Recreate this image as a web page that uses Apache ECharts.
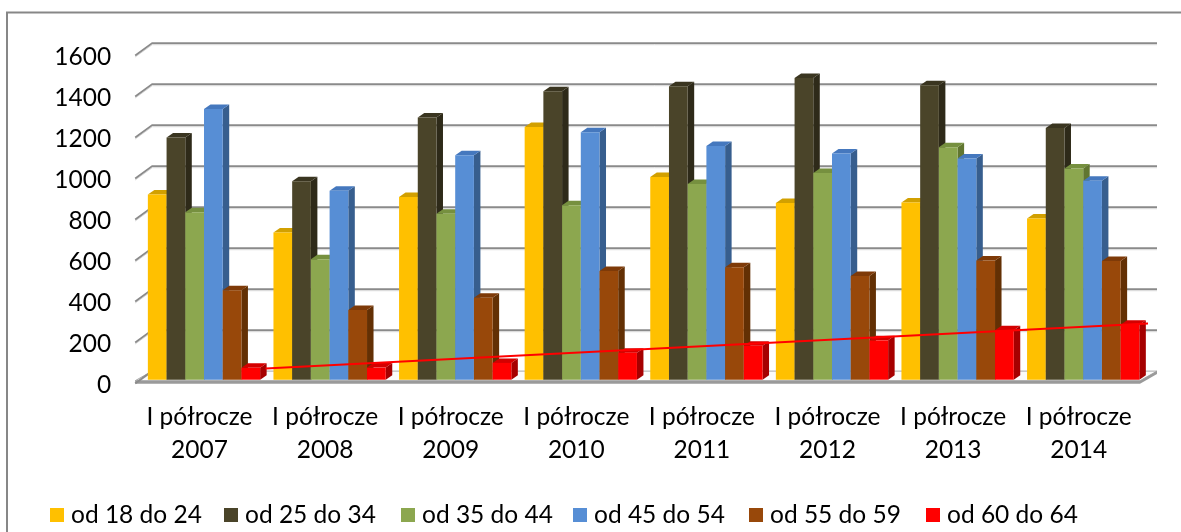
<!DOCTYPE html>
<html><head><meta charset="utf-8">
<script src="https://cdn.jsdelivr.net/npm/echarts@6/dist/echarts.min.js"></script>
<style>html,body{margin:0;padding:0;background:#fff}#c{width:1181px;height:532px}</style>
</head><body><div id="c"></div><script>
// ---- data ----
const years = ['2007','2008','2009','2010','2011','2012','2013','2014'];
const periodLabel = 'I półrocze';
const seriesNames = ['od 18 do 24','od 25 do 34','od 35 do 44','od 45 do 54','od 55 do 59','od 60 do 64'];
const age18_24 = [903, 718, 891, 1233, 989, 862, 865, 786];
const age25_34 = [1181, 968, 1279, 1407, 1431, 1472, 1436, 1228];
const age35_44 = [817, 587, 810, 851, 955, 1008, 1134, 1030];
const age45_54 = [1321, 922, 1095, 1207, 1140, 1103, 1079, 971];
const age55_59 = [436, 340, 400, 530, 548, 506, 582, 579];
const age60_64 = [58, 59, 82, 132, 166, 192, 241, 268];
const yTicks = [0, 200, 400, 600, 800, 1000, 1200, 1400, 1600];
const yTickLabels = ['0', '200', '400', '600', '800', '1000', '1200', '1400', '1600'];
// linear trend of "od 60 do 64" (position in categories, value)
const trendX = [0.99, 8.09];
const trendY = [55, 276];

// ---- style ----
const FONT = 'Lato';
const FS = 24.5;
const frontColors = ['#FFC000','#4A4429','#8CA74F','#578ED5','#98480A','#FF0000'];
const topColors   = ['#D2A000','#3A3520','#76903F','#4578BE','#7E3A08','#D40000'];
const sideColors  = ['#B38600','#2E2A19','#617630','#375E8E','#633004','#A60000'];
const DX = 6.5, DY = -4.5;        // depth offset of bar faces
const BAR_FRAC = 0.149;           // bar width / category width
const BACK_DX = 11, BACK_DY = -8.6, FRONT_DX = -6, FRONT_DY = 3.7;

const allSeries = [age18_24, age25_34, age35_44, age45_54, age55_59, age60_64];

function barRender(si) {
  return function (params, api) {
    const ci = api.value(0), v = api.value(1);
    const top = api.coord([ci, v]);
    const base = api.coord([ci, 0]);
    const cw = api.size([1, 0])[0];
    const bw = cw * BAR_FRAC;
    const x0 = top[0] - bw * 3 + si * bw;
    const x1 = x0 + bw;
    const yt = top[1], yb = base[1];
    return {
      type: 'group',
      children: [
        { type: 'polygon', shape: { points: [[x1, yb], [x1 + DX, yb + DY], [x1 + DX, yt + DY], [x1, yt]] }, style: { fill: sideColors[si] } },
        { type: 'polygon', shape: { points: [[x0, yt], [x1, yt], [x1 + DX, yt + DY], [x0 + DX, yt + DY]] }, style: { fill: topColors[si] } },
        { type: 'rect', shape: { x: x0, y: yt, width: bw, height: yb - yt }, style: { fill: frontColors[si] } }
      ]
    };
  };
}

function gridRender(params, api) {
  const cs = params.coordSys;
  const gl = cs.x, gr = cs.x + cs.width;
  const v = api.value(1);
  const y = api.coord([0, v])[1];
  const children = [];
  if (v === 0) {
    const b = y;
    const FL = [gl + FRONT_DX, b + 1], FR = [gr + FRONT_DX, b + 1];
    const BR = [gr + BACK_DX, b + BACK_DY], BL = [gl + BACK_DX, b + BACK_DY];
    children.push({ type: 'polygon', shape: { points: [FL, FR, BR, BL] }, style: { fill: '#fbfbfb', stroke: '#a8a8a8', lineWidth: 1 } });
    children.push({ type: 'polygon', shape: { points: [FL, FR, [FR[0], FR[1] + 3], [FL[0], FL[1] + 3]] }, style: { fill: '#9a9a9a' } });
    children.push({ type: 'polygon', shape: { points: [FR, BR, [BR[0], BR[1] + 3], [FR[0], FR[1] + 3]] }, style: { fill: '#9a9a9a' } });
    children.push({ type: 'polyline', shape: { points: [[gl + FRONT_DX, b + FRONT_DY], BL] }, style: { stroke: '#8c8c8c', lineWidth: 2, fill: null } });
  } else {
    children.push({ type: 'polyline', shape: { points: [[gl + FRONT_DX, y + FRONT_DY], [gl + BACK_DX, y + BACK_DY], [gr + BACK_DX, y + BACK_DY]] }, style: { stroke: '#d4d4d4', lineWidth: 1, fill: null }, position: [0, 1.6] });
    children.push({ type: 'polyline', shape: { points: [[gl + FRONT_DX, y + FRONT_DY], [gl + BACK_DX, y + BACK_DY], [gr + BACK_DX, y + BACK_DY]] }, style: { stroke: '#8a8a8a', lineWidth: 1.8, fill: null } });
  }
  // tick label
  children.push({
    type: 'text', x: gl - 30, y: y + 5.5,
    style: { text: yTickLabels[params.dataIndex], fontFamily: FONT, fontSize: FS, fill: '#000', align: 'right', verticalAlign: 'middle' }
  });
  return { type: 'group', children };
}

const chart = echarts.init(document.getElementById('c'), null, { renderer: 'canvas' });

const series = [
  { type: 'custom', name: 'grid', renderItem: gridRender, data: yTicks.map(v => [0, v]), encode: { x: 0, y: 1 }, z: 0, silent: true, clip: false }
];
allSeries.forEach((vals, si) => {
  series.push({
    type: 'custom', name: seriesNames[si], renderItem: barRender(si),
    data: vals.map((v, i) => [i, v]), encode: { x: 0, y: 1 },
    itemStyle: { color: frontColors[si] }, z: 2 + si, clip: false
  });
});
series.push({
  type: 'line', name: 'trend', xAxisIndex: 1, data: trendX.map((x, i) => [x, trendY[i]]),
  symbol: 'none', lineStyle: { color: '#FF0000', width: 2 }, z: 20, clip: false, silent: true
});

const legendLeft = [50, 224, 401, 573, 749, 926];
const legends = seriesNames.map((n, i) => ({
  data: [n], left: legendLeft[i], top: 501, padding: 0, icon: 'rect',
  itemWidth: 14, itemHeight: 14, selectedMode: false,
  textStyle: { fontFamily: FONT, fontSize: FS, color: '#000', lineHeight: 28, padding: [0, 0, 0, 2] }
}));

chart.setOption({
  animation: false,
  backgroundColor: '#fff',
  grid: { left: 141.2, right: 35, top: 51.7, bottom: 152.3 },
  xAxis: [
    {
      type: 'category', data: years.map(y => periodLabel + '\n' + y),
      axisLine: { show: false }, axisTick: { show: false }, splitLine: { show: false },
      axisLabel: { interval: 0, fontFamily: FONT, fontSize: FS, color: '#000', lineHeight: 33, margin: 21, padding: [0, 9, 0, 0] }
    },
    { type: 'value', min: 0, max: 8, show: false }
  ],
  yAxis: {
    type: 'value', min: 0, max: 1600, interval: 200,
    axisLine: { show: false }, axisTick: { show: false }, splitLine: { show: false },
    axisLabel: { show: false }
  },
  legend: legends,
  graphic: [
    { type: 'rect', shape: { x: 7, y: 12.5, width: 1200, height: 600 }, style: { fill: null, stroke: '#878787', lineWidth: 2 }, silent: true }
  ],
  series
});
</script></body></html>
